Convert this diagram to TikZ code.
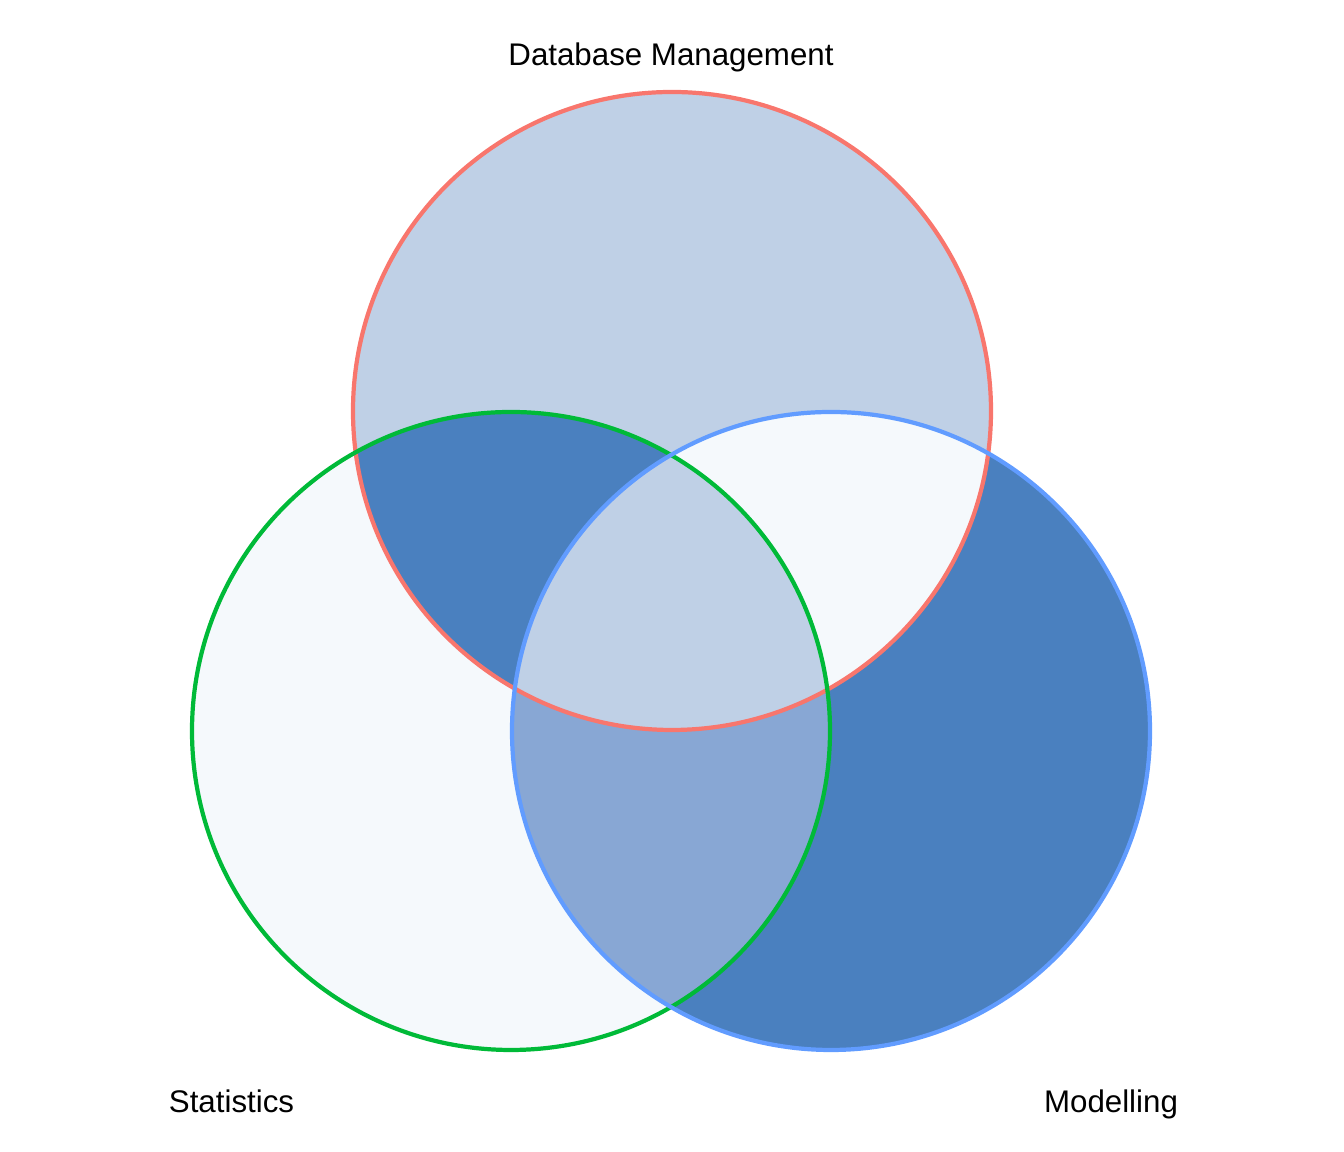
\documentclass[tikz,border=0pt]{standalone}
\usepackage{fontspec}
\setmainfont{Liberation Sans}
\definecolor{dbred}{HTML}{F8766D}
\definecolor{stgreen}{HTML}{00BA38}
\definecolor{moblue}{HTML}{619CFF}
\definecolor{lightfill}{HTML}{BFD0E6}
\definecolor{palefill}{HTML}{F5F9FC}
\definecolor{darkfill}{HTML}{4A80BF}
\definecolor{midfill}{HTML}{88A7D4}
\tikzstyle{setline}=[line width=1.2pt]
\tikzstyle{setlabel}=[anchor=base,inner sep=0pt,font=\fontsize{8.9}{10}\selectfont]

\begin{document}
\begin{tikzpicture}
\useasboundingbox (0,0) rectangle (13.44,11.52);
\def\rad{3.19}
\coordinate (db) at (6.72,7.41);
\coordinate (st) at (5.11,4.21);
\coordinate (mo) at (8.31,4.21);

% one colour per region
\fill[lightfill] (db) circle (\rad);
\fill[palefill] (st) circle (\rad);
\fill[darkfill] (mo) circle (\rad);
\begin{scope}
\clip (db) circle (\rad);
\fill[darkfill] (st) circle (\rad);
\fill[palefill] (mo) circle (\rad);
\end{scope}
\begin{scope}
\clip (st) circle (\rad);
\fill[midfill] (mo) circle (\rad);
\end{scope}
\begin{scope}
\clip (db) circle (\rad);
\clip (st) circle (\rad);
\fill[lightfill] (mo) circle (\rad);
\end{scope}

% outlines
\draw[setline,dbred] (db) circle (\rad);
\draw[setline,stgreen] (st) circle (\rad);
\draw[setline,moblue] (mo) circle (\rad);

\node[setlabel] (dblabel) at (6.71,10.86) {Database Management};
\node[setlabel] (stlabel) at (2.315,0.39) {Statistics};
\node[setlabel] (molabel) at (11.11,0.39) {Modelling};
\end{tikzpicture}
\end{document}
